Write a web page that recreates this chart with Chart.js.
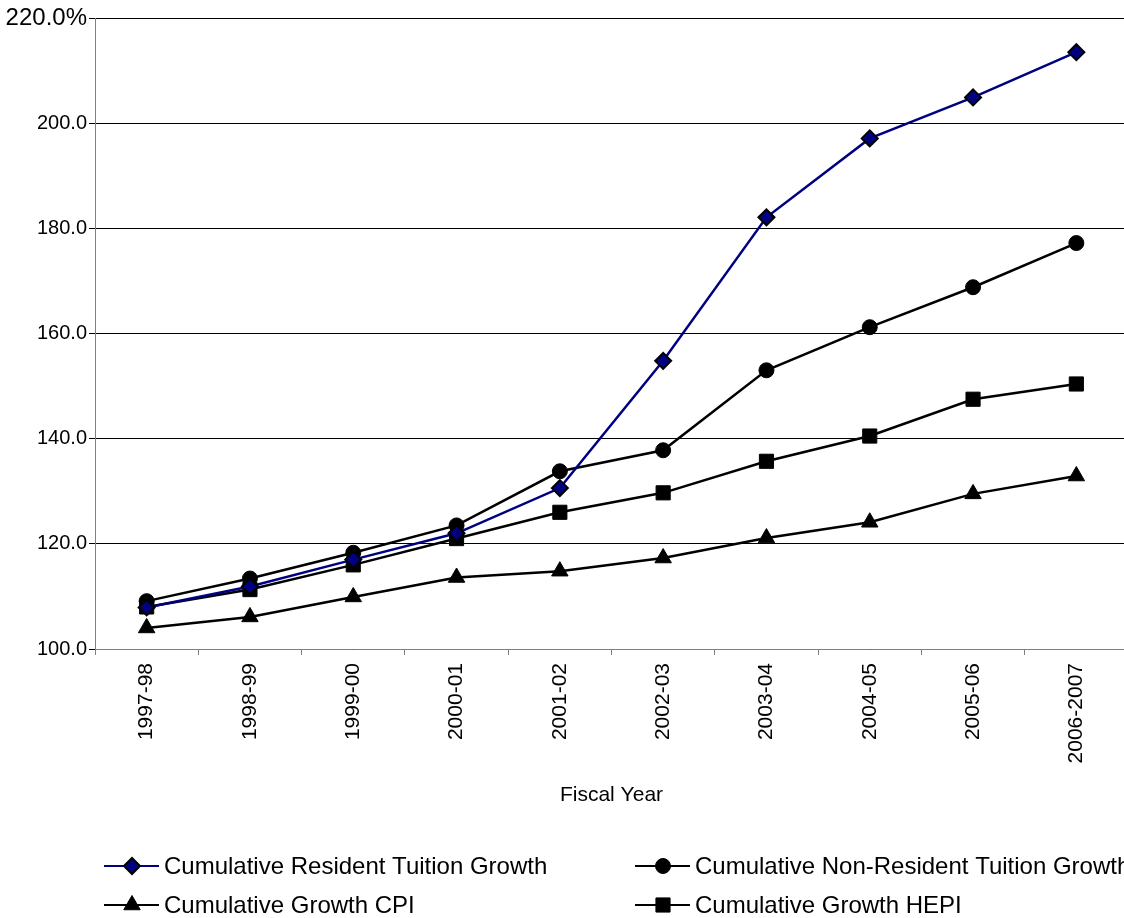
<!DOCTYPE html>
<html>
<head>
<meta charset="utf-8">
<script src="https://cdn.jsdelivr.net/npm/chart.js@4"></script>
<style>
  html, body { margin: 0; padding: 0; background: #fff; overflow: hidden; width: 1124px; height: 918px; }
  #wrap { position: relative; width: 1140px; height: 918px; }
</style>
</head>
<body>
<div id="wrap"><canvas id="chartId"></canvas></div>
<script>
var years = ['1997-98', '1998-99', '1999-00', '2000-01', '2001-02', '2002-03', '2003-04', '2004-05', '2005-06', '2006-2007']
var residentTuition = [107.9, 111.9, 117.0, 122.0, 130.6, 154.8, 182.1, 197.1, 204.9, 213.5]
var nonResidentTuition = [109.1, 113.4, 118.3, 123.5, 133.8, 137.8, 153.0, 161.2, 168.8, 177.2]
var growthCPI = [104.0, 106.1, 109.9, 113.6, 114.8, 117.3, 121.1, 124.1, 129.5, 132.9]
var growthHEPI = [108.0, 111.3, 116.0, 121.0, 126.0, 129.7, 135.7, 140.5, 147.5, 150.4]
var yTicks = [100, 120, 140, 160, 180, 200, 220]

var font = '"Liberation Sans", Arial, sans-serif'

// legend in two columns, drawn under the axis title
var gridLegend = {
    id: 'gridLegend',
    afterDraw: function(chart) {
        var ctx = chart.ctx
        var colX = [104, 635]
        var rowY = [866, 905]
        ctx.save()
        chart.data.datasets.forEach(function(ds, i) {
            var x = colX[i % 2], y = rowY[Math.floor(i / 2)]
            ctx.strokeStyle = ds.borderColor
            ctx.lineWidth = 2
            ctx.beginPath()
            ctx.moveTo(x, y)
            ctx.lineTo(x + 55, y)
            ctx.stroke()
            ctx.fillStyle = ds.pointBackgroundColor
            ctx.strokeStyle = ds.pointBorderColor
            ctx.lineWidth = ds.pointBorderWidth
            Chart.helpers.drawPoint(ctx, {pointStyle: ds.pointStyle, radius: ds.pointRadius, rotation: 0, borderWidth: ds.pointBorderWidth}, x + 28, y)
            ctx.fillStyle = '#000'
            ctx.font = '24px ' + font
            ctx.textBaseline = 'middle'
            ctx.fillText(ds.label, x + 60, y + 1)
        })
        ctx.restore()
    }
}

var chrt = document.getElementById('chartId').getContext('2d')
var lineChart = new Chart(chrt, {
    type: 'line',
    data: {
        labels: years,
        datasets: [{
            label: 'Cumulative Resident Tuition Growth',
            data: residentTuition,
            borderColor: '#000080',
            borderWidth: 2.5,
            pointStyle: 'rectRot',
            pointRadius: 8,
            pointBackgroundColor: '#000080',
            pointBorderColor: '#000',
            pointBorderWidth: 2
        }, {
            label: 'Cumulative Non-Resident Tuition Growth',
            data: nonResidentTuition,
            borderColor: '#000',
            borderWidth: 2.5,
            pointStyle: 'circle',
            pointRadius: 7.5,
            pointBackgroundColor: '#000',
            pointBorderColor: '#000',
            pointBorderWidth: 1
        }, {
            label: 'Cumulative Growth CPI',
            data: growthCPI,
            borderColor: '#000',
            borderWidth: 2.5,
            pointStyle: 'triangle',
            pointRadius: 9.5,
            pointBackgroundColor: '#000',
            pointBorderColor: '#000',
            pointBorderWidth: 1
        }, {
            label: 'Cumulative Growth HEPI',
            data: growthHEPI,
            borderColor: '#000',
            borderWidth: 2.5,
            pointStyle: 'rect',
            pointRadius: 10,
            pointBackgroundColor: '#000',
            pointBorderColor: '#000',
            pointBorderWidth: 1
        }]
    },
    options: {
        responsive: true,
        maintainAspectRatio: false,
        animation: false,
        layout: { padding: { top: 18, right: 12, bottom: 108, left: 0 } },
        plugins: {
            legend: { display: false },
            tooltip: { enabled: false }
        },
        elements: { line: { tension: 0 } },
        scales: {
            x: {
                offset: true,
                grid: {
                    offset: true,
                    drawOnChartArea: false,
                    drawTicks: true,
                    tickLength: 6,
                    color: '#808080'
                },
                border: { color: '#808080', width: 1 },
                ticks: {
                    minRotation: 90,
                    maxRotation: 90,
                    padding: 8,
                    color: '#000',
                    font: { family: font, size: 21 }
                },
                title: {
                    display: true,
                    text: 'Fiscal Year',
                    color: '#000',
                    font: { family: font, size: 21 },
                    padding: { top: 4, bottom: 2 }
                },
                afterFit: function(scale) { scale.height = 161 }
            },
            y: {
                min: 100,
                max: 220,
                afterBuildTicks: function(scale) {
                    scale.ticks = yTicks.map(function(v) { return { value: v } })
                },
                grid: {
                    color: '#000',
                    lineWidth: 1,
                    tickLength: 6
                },
                border: { color: '#808080', width: 1 },
                ticks: {
                    padding: 2,
                    color: '#000',
                    // top label is set larger than the rest
                    font: function(c) {
                        return { family: font, size: c.tick && c.tick.value === 220 ? 24 : 20 }
                    },
                    callback: function(v) { return v === 220 ? '220.0%' : v.toFixed(1) }
                },
                afterFit: function(scale) { scale.width = 95 }
            }
        }
    },
    plugins: [gridLegend]
})
</script>
</body>
</html>
